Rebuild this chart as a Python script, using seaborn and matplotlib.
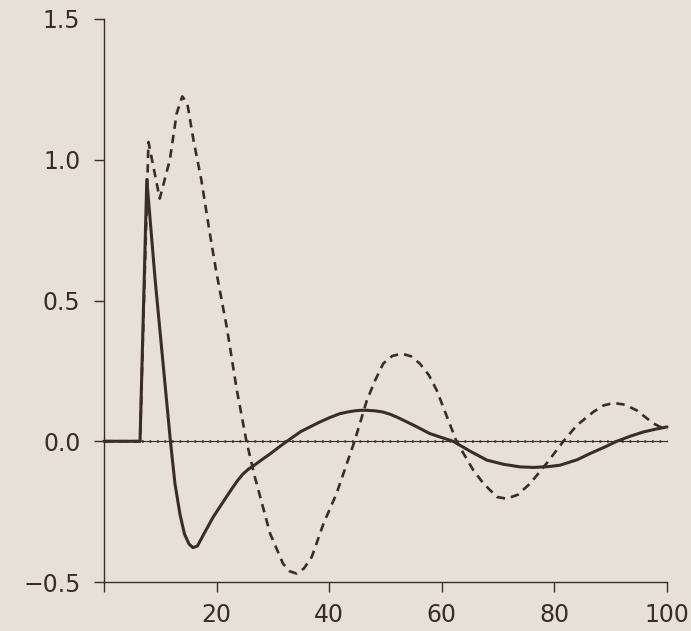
import matplotlib
matplotlib.use("Agg")
import matplotlib.pyplot as plt
import seaborn as sns
import pandas as pd

# ---- data ----
solid_x = [0, 6.4, 7.6, 9.1, 11.8, 12.6, 13.5, 14.3, 15.1, 15.8, 16.6, 17.8, 19.4, 21.5,
           22.6, 23.6, 24.6, 25.6, 26.5, 28, 29.5, 31, 32.5, 35, 38.4, 40.2, 41.9, 43.3,
           44.5, 45.6, 46.7, 48.1, 49.5, 50.8, 52, 55, 57.9, 60, 62, 65, 68, 71, 73.9,
           76.3, 79, 81, 84, 86.3, 89, 91.1, 93.5, 95.8, 98, 100]
solid_y = [0, 0, 0.93, 0.57, 0, -0.15, -0.26, -0.33, -0.365, -0.378, -0.372, -0.327, -0.269, -0.205,
           -0.172, -0.143, -0.118, -0.100, -0.088, -0.066, -0.045, -0.022, 0, 0.035, 0.069, 0.085, 0.098, 0.104,
           0.108, 0.110, 0.110, 0.108, 0.104, 0.096, 0.086, 0.057, 0.027, 0.013, 0, -0.035, -0.067, -0.082, -0.091,
           -0.093, -0.09, -0.085, -0.066, -0.044, -0.02, 0, 0.018, 0.033, 0.043, 0.051]

dashed_x = [0, 6.4, 7.9, 9.9, 11.7, 12.9, 13.9, 14.8, 15.9, 17.3, 18.8, 19.9, 21.8,
            23.6, 25.3, 26.8, 29.5, 31.8, 33, 34.2, 35.5, 36.9, 39, 41.3, 44.5, 46.7,
            48.2, 49.6, 51.2, 52.9, 54.5, 56.1, 57.7, 59.1, 62.6, 65.6, 67.4, 69.8,
            71.5, 73.5, 75.7, 78.6, 81.6, 84, 86.9, 88.7, 90.5, 92.5, 94.6, 97.6, 100]
dashed_y = [0, 0, 1.063, 0.862, 1.0, 1.164, 1.225, 1.2, 1.069, 0.927, 0.738, 0.607, 0.406,
            0.181, 0, -0.127, -0.328, -0.435, -0.462, -0.47, -0.452, -0.411, -0.292, -0.186, 0, 0.146,
            0.218, 0.276, 0.303, 0.311, 0.302, 0.276, 0.235, 0.181, 0, -0.103, -0.15, -0.198,
            -0.204, -0.19, -0.15, -0.079, 0, 0.057, 0.104, 0.127, 0.136, 0.130, 0.110, 0.063, 0.039]

zero_x = [0, 100]
zero_y = [0, 0]

x_ticks = [0, 20, 40, 60, 80, 100]
x_labels = ["", "20", "40", "60", "80", "100"]
y_ticks = [-0.5, 0.0, 0.5, 1.0, 1.5]
y_labels = ["\u22120.5", "0.0", "0.5", "1.0", "1.5"]

# ---- styling ----
bg = "#e6e0d8"
ink = "#3a2c28"
sns.set_theme(style="white")
plt.rcParams["font.family"] = ["DejaVu Sans"]

fig = plt.figure(figsize=(6.91, 6.31), dpi=100, facecolor=bg)
ax = fig.add_axes([104 / 691, (631 - 582) / 631, (667 - 104) / 691, (582 - 19) / 631])
ax.set_facecolor(bg)

df_solid = pd.DataFrame({"x": solid_x, "y": solid_y})
df_dash = pd.DataFrame({"x": dashed_x, "y": dashed_y})
df_zero = pd.DataFrame({"x": zero_x, "y": zero_y})

sns.lineplot(data=df_zero, x="x", y="y", ax=ax, color=ink, lw=0.8, sort=False,
             estimator=None, clip_on=False)
sns.lineplot(data=df_zero, x="x", y="y", ax=ax, color=ink, lw=1.8, sort=False,
             estimator=None, clip_on=False, linestyle=(0, (0.7, 2.3)))
sns.lineplot(data=df_dash, x="x", y="y", ax=ax, color=ink, lw=1.9, sort=False,
             estimator=None, clip_on=False, linestyle=(0, (3.2, 2.3)))
sns.lineplot(data=df_solid, x="x", y="y", ax=ax, color=ink, lw=2.2, sort=False,
             estimator=None, clip_on=False)

ax.set_xlim(0, 100)
ax.set_ylim(-0.5, 1.5)
ax.set_xticks(x_ticks)
ax.set_xticklabels(x_labels)
ax.set_yticks(y_ticks)
ax.set_yticklabels(y_labels)
ax.set_xlabel("")
ax.set_ylabel("")

for s in ["top", "right"]:
    ax.spines[s].set_visible(False)
for s in ["left", "bottom"]:
    ax.spines[s].set_color(ink)
    ax.spines[s].set_linewidth(1.0)

ax.tick_params(axis="both", which="major", direction="out", length=7, width=1.0,
               color=ink, labelcolor=ink, labelsize=17, bottom=True, left=True)
ax.tick_params(axis="y", pad=10)
ax.tick_params(axis="x", pad=8)

fig.savefig("out.png", dpi=100, facecolor=bg)
